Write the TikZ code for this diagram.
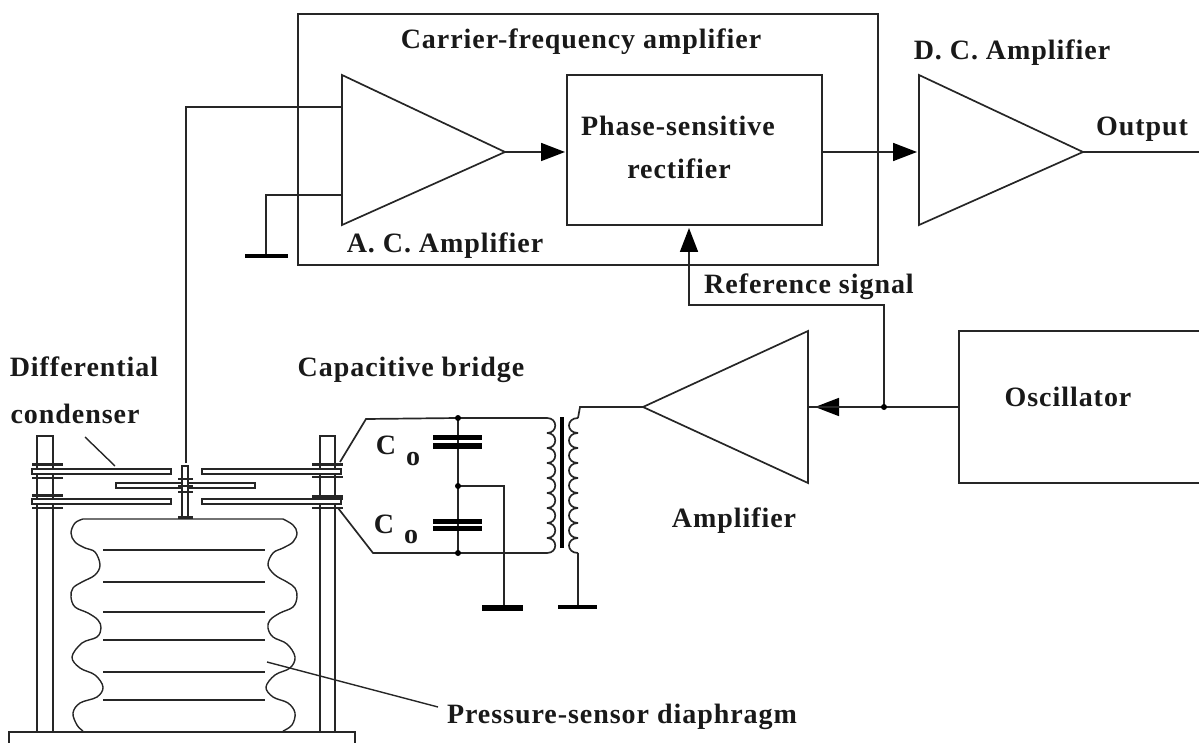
\documentclass[tikz,border=0pt]{standalone}
\usepackage{fontspec}
\setmainfont{Liberation Serif}
\newfontfamily\lblfont[LetterSpace=3.4]{Liberation Serif}
\usetikzlibrary{arrows.meta,calc,positioning}
\tikzset{
  wire/.style={line width=1.7pt,black!85},
  feed/.style={wire,-{Triangle[length=24pt,width=18pt,black]}},
  plate/.style={line width=1.3pt,black!85,fill=white},
  washer/.style={line width=2pt,black!85},
  capplate/.style={line width=5.5pt,black},
  groundbar/.style={line width=5.5pt,black},
  lbl/.style={font=\lblfont\bfseries\fontsize{28}{30}\selectfont,inner sep=0pt,anchor=base,black!90},
}
\begin{document}
\begin{tikzpicture}[x=1pt,y=-1pt]
  \useasboundingbox (0,0) rectangle (1199,743);
  %Coordinates
  \coordinate (acin) at (342,107);
  \coordinate (acgnd) at (342,195);
  \coordinate (acout) at (505,152);
  \coordinate (rectin) at (565,152);
  \coordinate (rectout) at (822,152);
  \coordinate (rectref) at (689,228);
  \coordinate (dcin) at (917,152);
  \coordinate (dcout) at (1083,152);
  \coordinate (outend) at (1199,152);
  \coordinate (refdot) at (884,407);
  \coordinate (oscout) at (959,407);
  \coordinate (ampin) at (808,407);
  \coordinate (ampout) at (643,407);
  \coordinate (captop) at (458,418);
  \coordinate (capmid) at (458,486);
  \coordinate (capbot) at (458,553);
  %Boxes
  \draw[wire] (298,14) rectangle (878,265);
  \draw[wire] (567,75) rectangle (822,225);
  \draw[wire] (1199,331) -- (959,331) -- (959,483) -- (1199,483);
  %Amplifiers
  \draw[wire] (342,75) -- (acout) -- (342,225) -- cycle;
  \draw[wire] (919,75) -- (dcout) -- (919,225) -- cycle;
  \draw[wire] (808,331) -- (ampout) -- (808,483) -- cycle;
  %Signal path
  \draw[feed] (acout) -- (rectin);
  \draw[feed] (rectout) -- (dcin);
  \draw[wire] (dcout) -- (outend);
  \draw[feed] (refdot) -- (884,305) -- (689,305) -- (rectref);
  \draw[feed,shorten >=7pt] (oscout) -- (ampin);
  \draw[wire] (oscout) -- (ampin);
  \fill (refdot) circle (3);
  \draw[wire] (186,463) -- (186,107) -- (acin);
  \draw[wire] (acgnd) -- (266,195) -- (266,256);
  \draw[groundbar,line width=4pt] (245,256) -- (288,256);
  %Bridge
  \draw[wire] (340,462) -- (366,419) -- (captop) -- (547,418);
  \draw[wire] (338,508) -- (373,553) -- (capbot) -- (547,553);
  \draw[wire] (captop) -- (capbot);
  \draw[capplate] (433,437.5) -- (482,437.5);
  \draw[capplate] (433,446) -- (482,446);
  \draw[capplate] (433,521.5) -- (482,521.5);
  \draw[capplate] (433,528.5) -- (482,528.5);
  \draw[wire] (capmid) -- (504,486) -- (504,607);
  \draw[groundbar] (482,608) -- (523,608);
  \foreach \p in {captop,capmid,capbot} \fill (\p) circle (3);
  %Transformer
  \foreach \y in {418,433,...,538} {
    \draw[wire] (547,\y) .. controls (558,\y) and (558,\y+15) .. (547,\y+15);
    \draw[wire] (578,\y) .. controls (566,\y) and (566,\y+15) .. (578,\y+15);
  }
  \draw[line width=3.5pt] (562,417) -- (562,548);
  \draw[wire] (578,418) -- (580,407) -- (ampout);
  \draw[wire] (578,553) -- (578,607);
  \draw[groundbar,line width=4.5pt] (558,607) -- (597,607);
  %Posts and base
  \draw[wire] (37,732) -- (37,436) -- (53,436) -- (53,732);
  \draw[wire] (320,732) -- (320,436) -- (335,436) -- (335,732);
  \draw[wire] (9,743) -- (9,732) -- (355,732) -- (355,743);
  %Plates
  \foreach \x/\w in {32/139,202/139} {
    \draw[plate] (\x,469) rectangle (\x+\w,474);
    \draw[plate] (\x,499) rectangle (\x+\w,504);
  }
  \draw[plate] (116,483) rectangle (255,488);
  %Washers
  \draw[washer,line width=3pt] (32,464) -- (63,464);
  \draw[washer] (32,478) -- (63,478);
  \draw[washer,line width=3pt] (32,495) -- (63,495);
  \draw[washer] (32,508) -- (63,508);
  \draw[washer,line width=3pt] (312,464) -- (343,464);
  \draw[washer] (312,477) -- (343,477);
  \draw[washer,line width=5pt] (312,497) -- (343,497);
  \draw[washer] (312,508) -- (343,508);
  %Center post
  \draw[plate] (182,466) rectangle (188,517);
  \foreach \y in {479,486,492} \draw[washer,line width=1.3pt] (178,\y) -- (193,\y);
  \draw[washer,line width=3pt] (178,517) -- (193,517);
  %Bellows
  \draw[wire,line width=1.4pt] plot[smooth,tension=0.6] coordinates {(83,731) (77,725) (73,713) (80,703) (97,697) (103,687) (95,675) (80,668) (72,657) (82,643) (97,637) (101,628) (98,620) (88,613) (75,607) (71,597) (73,588) (82,582) (95,575) (100,565) (95,552) (85,548) (75,542) (71,533) (75,523) (83,519)} -- (283,519) plot[smooth,tension=0.6] coordinates {(283,519) (293,525) (297,533) (293,542) (283,548) (273,553) (268,565) (275,575) (287,582) (295,588) (297,597) (293,607) (280,613) (270,620) (268,628) (273,637) (287,644) (295,657) (290,668) (275,675) (266,687) (273,697) (288,703) (295,713) (292,725) (283,731)};
  \foreach \y in {550,582,612,640,672,700} \draw[wire,line width=1.4pt] (103,\y) -- (265,\y);
  %Leaders
  \draw[wire,line width=1.4pt] (85,437) -- (115,466);
  \draw[wire,line width=1.4pt] (267,662) -- (438,707);
  %Labels
  \node[lbl] (carrierlbl) at (581,49) {Carrier-frequency amplifier};
  \node[lbl] (dclbl) at (1012,60) {D. C. Amplifier};
  \node[lbl] (phaselbl) at (678,136) {Phase-sensitive};
  \node[lbl] (rectlbl) at (679,179) {rectifier};
  \node[lbl] (outlbl) at (1142,136) {Output};
  \node[lbl] (aclbl) at (445,253) {A. C. Amplifier};
  \node[lbl] (reflbl) at (809,294) {Reference signal};
  \node[lbl] (difflbl) at (84,376) {Differential};
  \node[lbl] (condlbl) at (75,423) {condenser};
  \node[lbl] (bridgelbl) at (411,376) {Capacitive bridge};
  \node[lbl] (osclbl) at (1068,406) {Oscillator};
  \node[lbl] (amplbl) at (734,527) {Amplifier};
  \node[lbl] (presslbl) at (622,723) {Pressure-sensor diaphragm};
  \node[lbl] (cone) at (386,454) {C};
  \node[lbl] (conesub) at (413,465) {o};
  \node[lbl] (ctwo) at (384,533) {C};
  \node[lbl] (ctwosub) at (411,543) {o};
\end{tikzpicture}
\end{document}
